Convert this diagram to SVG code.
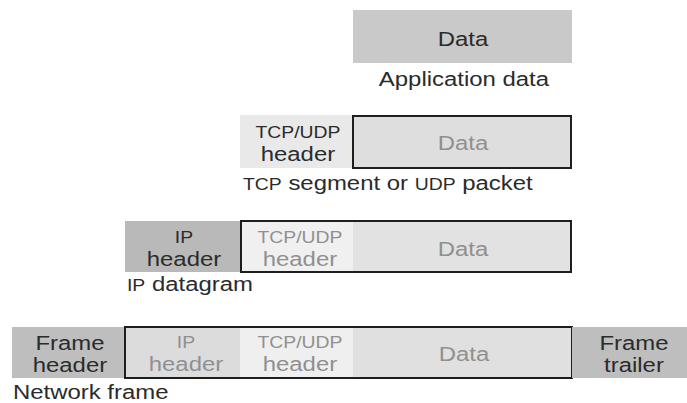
<svg xmlns="http://www.w3.org/2000/svg" width="687" height="403" viewBox="0 0 687 403">
  <style>
    text { font-family: "Liberation Sans", Arial, Helvetica, sans-serif; font-size: 21px; fill: #2b2b2b; }
    .c { text-anchor: middle; transform-box: fill-box; transform-origin: center; transform: scaleX(1.14); }
    .l { text-anchor: start; transform-box: fill-box; transform-origin: left; transform: scaleX(1.14); }
    .sc { font-size: 17px; }
    .g { fill: #909090; }
    .box { stroke: none; }
    .outline { fill: none; stroke: #1e1e1e; stroke-width: 2; }
  </style>
  <rect width="687" height="403" fill="#ffffff"/>

  <!-- Row 1: Application data -->
  <g id="app-data">
    <rect class="box" x="353" y="10" width="219" height="53" fill="#c9c9c9"/>
    <text class="c" x="463" y="46">Data</text>
  </g>
  <g id="label-app">
    <text class="c" x="464" y="86">Application data</text>
  </g>

  <!-- Row 2: TCP segment -->
  <g id="seg-tcp-header">
    <rect class="box" x="240" y="115" width="113" height="53" fill="#e9e9e9"/>
    <text class="c sc" x="298" y="138">TCP/UDP</text>
    <text class="c" x="298" y="161">header</text>
  </g>
  <g id="seg-data">
    <rect class="box" x="353" y="116" width="218" height="52" fill="#dedede"/>
    <rect class="outline" x="353" y="116" width="218" height="52"/>
    <text class="c g" x="463" y="150">Data</text>
  </g>
  <g id="label-seg">
    <text class="l" x="243" y="190"><tspan class="sc">TCP</tspan> segment or <tspan class="sc">UDP</tspan> packet</text>
  </g>

  <!-- Row 3: IP datagram -->
  <g id="dg-ip-header">
    <rect class="box" x="125" y="221" width="116" height="51" fill="#b9b9b9"/>
    <text class="c sc" x="184" y="243">IP</text>
    <text class="c" x="184" y="266">header</text>
  </g>
  <g id="dg-body">
    <rect class="box" x="241" y="221" width="112" height="51" fill="#f0f0f0"/>
    <rect class="box" x="353" y="221" width="218" height="51" fill="#e2e2e2"/>
    <rect class="outline" x="241" y="221" width="330" height="51"/>
    <text class="c sc g" x="300" y="243">TCP/UDP</text>
    <text class="c g" x="300" y="266">header</text>
    <text class="c g" x="463" y="256">Data</text>
  </g>
  <g id="label-dg">
    <text class="l" x="127" y="291"><tspan class="sc">IP</tspan> datagram</text>
  </g>

  <!-- Row 4: Network frame -->
  <g id="fr-header">
    <rect class="box" x="12" y="327" width="113" height="51" fill="#bebebe"/>
    <text class="c" x="70" y="350">Frame</text>
    <text class="c" x="70" y="372">header</text>
  </g>
  <g id="fr-body">
    <rect class="box" x="125" y="327" width="115" height="51" fill="#dcdcdc"/>
    <rect class="box" x="240" y="327" width="113" height="51" fill="#efefef"/>
    <rect class="box" x="353" y="327" width="219" height="51" fill="#e0e0e0"/>
    <rect class="outline" x="125" y="327" width="447" height="51"/>
    <text class="c sc g" x="186" y="348">IP</text>
    <text class="c g" x="186" y="371">header</text>
    <text class="c sc g" x="300" y="348">TCP/UDP</text>
    <text class="c g" x="300" y="371">header</text>
    <text class="c g" x="464" y="361">Data</text>
  </g>
  <g id="fr-trailer">
    <rect class="box" x="572" y="327" width="115" height="51" fill="#bebebe"/>
    <text class="c" x="634" y="350">Frame</text>
    <text class="c" x="634" y="372">trailer</text>
  </g>
  <g id="label-frame">
    <text class="l" x="13" y="399">Network frame</text>
  </g>

  <g id="connectors"/>
</svg>
